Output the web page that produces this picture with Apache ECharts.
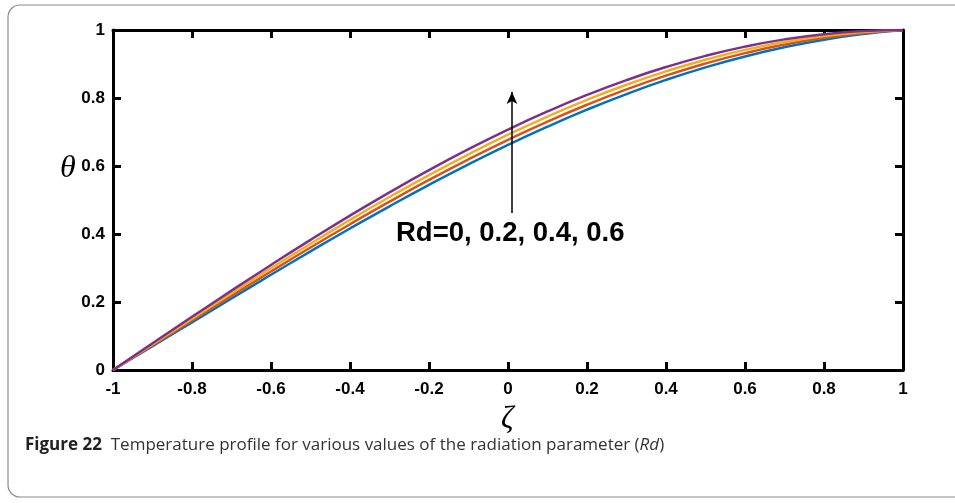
<!DOCTYPE html>
<html><head><meta charset="utf-8">
<script src="https://cdn.jsdelivr.net/npm/echarts@6/dist/echarts.min.js"></script>
<style>html,body{margin:0;padding:0;background:#fff;}#c{width:955px;height:503px;}</style>
</head><body><div id="c"></div>
<script>
const zeta = [-1,-0.9,-0.8,-0.7,-0.6,-0.5,-0.4,-0.3,-0.2,-0.1,0,0.1,0.2,0.3,0.4,0.5,0.6,0.7,0.8,0.9,1];
const rd0  = [0,0.0699,0.1402,0.2104,0.2802,0.3489,0.4162,0.4815,0.5446,0.6048,0.6621,0.7158,0.7658,0.8116,0.8532,0.8901,0.9223,0.9494,0.9715,0.9883,1];
const rd02 = [0,0.0728,0.1456,0.2181,0.2898,0.3602,0.4288,0.4952,0.5590,0.6197,0.6771,0.7307,0.7802,0.8253,0.8658,0.9014,0.9319,0.9571,0.9769,0.9912,1];
const rd04 = [0,0.0756,0.1510,0.2257,0.2994,0.3714,0.4414,0.5088,0.5734,0.6345,0.6921,0.7455,0.7946,0.8389,0.8784,0.9126,0.9415,0.9647,0.9823,0.9940,1];
const rd06 = [0,0.0785,0.1564,0.2334,0.3090,0.3827,0.4540,0.5225,0.5878,0.6494,0.7071,0.7604,0.8090,0.8526,0.8910,0.9239,0.9511,0.9724,0.9877,0.9969,1];
const seriesNames = ['Rd=0','Rd=0.2','Rd=0.4','Rd=0.6'];
const colors = ['#0072BD','#D95319','#EDB120','#7E2F8E'];
const arrowPts = [[0.01,0.462],[0.01,0.818]];
const annotation = 'Rd=0, 0.2, 0.4, 0.6';

const chart = echarts.init(document.getElementById('c'));
const tickFont = {color:'#000',fontFamily:'"Liberation Sans", Arial',fontWeight:'bold',fontSize:17};
const axLine = {show:true,onZero:false,lineStyle:{color:'#000',width:3}};
const axTick = {show:true,inside:true,length:8,lineStyle:{color:'#000',width:3}};
function fmt(v){ return String(Math.round(v*10)/10); }
const all = [rd0,rd02,rd04,rd06];
const series = all.map((arr,i)=>({
  name:seriesNames[i], type:'line', smooth:true, symbol:'none',
  data: zeta.map((z,j)=>[z,arr[j]]),
  lineStyle:{color:colors[i],width:2.5}, z:3
}));
series.push({
  type:'line', data:[], symbol:'none',
  markLine:{silent:true,symbol:['none','arrow'],symbolSize:[8,12],
    lineStyle:{color:'#000',width:1.5,type:'solid'},label:{show:false},
    data:[[{coord:arrowPts[0]},{coord:arrowPts[1]}]]}
});
chart.setOption({
  animation:false,
  grid:{left:113,right:52,top:30,bottom:133},
  xAxis:[{type:'value',min:-1,max:1,interval:0.2,axisLine:axLine,axisTick:axTick,splitLine:{show:false},
    axisLabel:Object.assign({margin:11,formatter:fmt},tickFont)},
    {type:'value',position:'top',min:-1,max:1,interval:0.2,axisLine:axLine,axisTick:axTick,splitLine:{show:false},axisLabel:{show:false}}],
  yAxis:[{type:'value',min:0,max:1,interval:0.2,axisLine:axLine,axisTick:axTick,splitLine:{show:false},
    axisLabel:Object.assign({margin:8,formatter:fmt},tickFont)},
    {type:'value',position:'right',min:0,max:1,interval:0.2,axisLine:axLine,axisTick:axTick,splitLine:{show:false},axisLabel:{show:false}}],
  series:series,
  graphic:[
    {type:'rect',shape:{x:8,y:5,width:1000,height:492,r:12},style:{fill:'none',stroke:'#8a8a8a',lineWidth:1.2},z:-1},
    {type:'text',left:60,top:153,style:{text:'θ',font:'italic 32px "Liberation Serif", serif',fill:'#000'}},
    {type:'text',left:501,top:404,style:{text:'ζ',font:'italic 31px "Liberation Serif", serif',fill:'#000'}},
    {type:'text',left:396,top:219,style:{text:annotation,font:'bold 27.5px "Liberation Sans", Arial',fill:'#000'}},
    {type:'text',left:25,top:437,style:{rich:{b:{fontFamily:'Open Sans',fontWeight:'bold',fontSize:17,fill:'#222'},n:{fontFamily:'Open Sans',fontSize:17,fill:'#333'},i:{fontFamily:'Open Sans',fontStyle:'italic',fontSize:17,fill:'#333'}},
      text:'{b|Figure 22}{n|  Temperature profile for various values of the radiation parameter (}{i|Rd}{n|)}'}}
  ]
});
</script></body></html>
